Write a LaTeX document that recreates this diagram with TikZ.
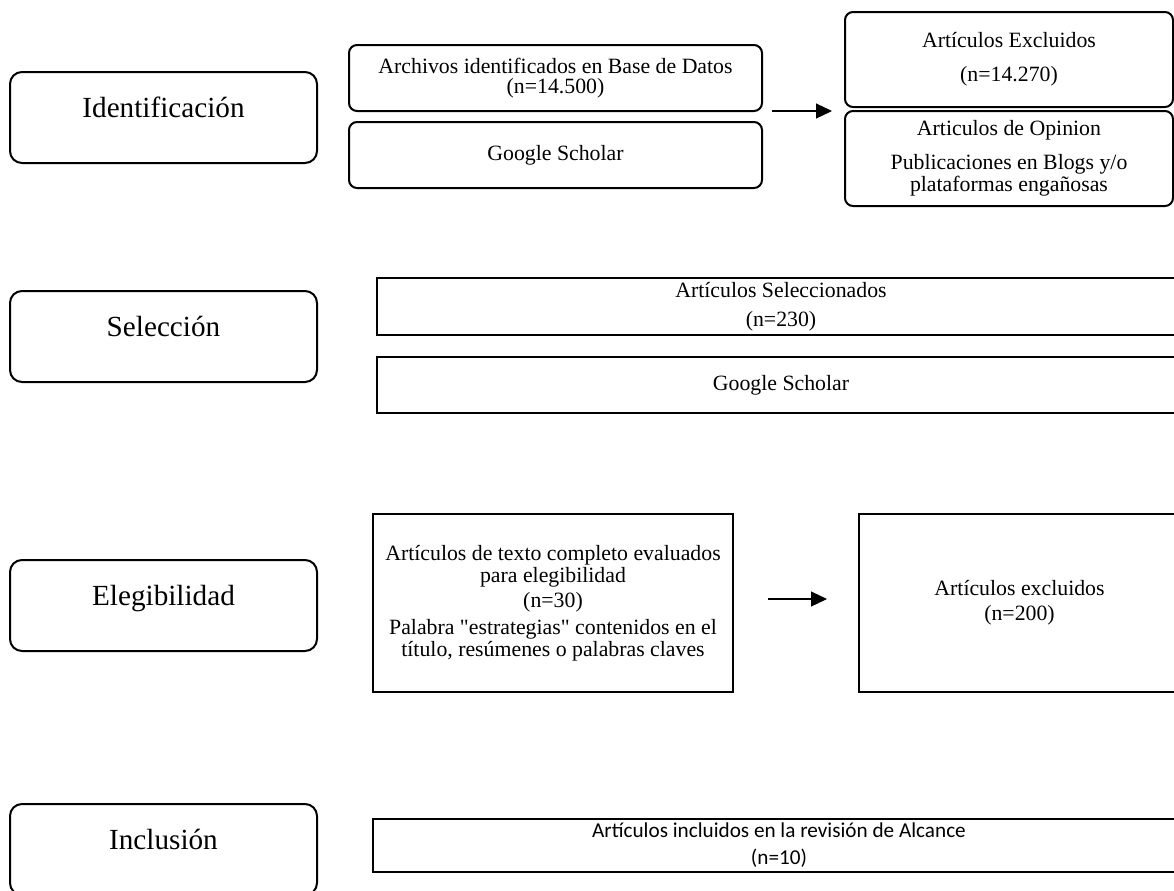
\documentclass[tikz,border=0pt]{standalone}
\usepackage{fontspec}
\setmainfont{Liberation Serif}
\newfontfamily\calibri{Carlito}
\usetikzlibrary{positioning,arrows.meta}

\begin{document}
\begin{tikzpicture}[
      x=0.5pt, y=-0.5pt,
      node distance=5.5pt and 63pt,
      every node/.style={
        align=center, inner sep=0pt, outer sep=0pt, line width=1pt
      },
      stage/.style={draw, rounded corners=6pt, minimum width=153.5pt,
        minimum height=45.5pt, text height=10pt, text depth=10pt,
        font=\fontsize{14.6}{16}\selectfont},
      rbox/.style={draw, rounded corners=4pt, font=\fontsize{10.9}{11}\selectfont},
      sbox/.style={draw, font=\fontsize{10.9}{11}\selectfont},
      >={Triangle[length=8pt,width=7.5pt]}
    ]
    \useasboundingbox (0,0) rectangle (1174,890);

    % Row 1
    \node (n1) [stage] at (163.5,117.5) {Identificación};
    \node (n2) [rbox, minimum width=206.5pt, minimum height=33pt] at (555.5,78) {Archivos identificados en Base de Datos\\[-1pt](n=14.500)};
    \node (n3) [rbox, minimum width=206.5pt, minimum height=33pt, below=of n2] {Google Scholar};
    \node (n4) [rbox, minimum width=164pt, minimum height=47.5pt] at (1009,59.5) {Artículos Excluidos\\[6pt](n=14.270)};
    \node (n5) [rbox, minimum width=164pt, minimum height=47.5pt, below=2pt of n4] {Articulos de Opinion\\[6pt]Publicaciones en Blogs y/o\\plataformas engañosas};

    % Row 2
    \node (n6) [stage] at (163.5,336.5) {Selección};
    \node (n7) [sbox, minimum width=404pt, minimum height=28.5pt] at (781,306.5) {Artículos Seleccionados\\[3.5pt](n=230)};
    \node (n8) [sbox, minimum width=404pt, minimum height=28pt, below=11pt of n7] {Google Scholar};

    % Row 3
    \node (n9) [stage] at (163.5,605.5) {Elegibilidad};
    \node (n10) [sbox, minimum width=180pt, minimum height=89pt] at (553,603) {Artículos de texto completo evaluados\\para elegibilidad\\[1.5pt](n=30)\\[2.5pt]Palabra \textquotedbl estrategias\textquotedbl{} contenidos en el\\título, resúmenes o palabras claves};
    \node (n11) [sbox, minimum width=160.5pt, minimum height=89pt, right=63pt of n10] {Artículos excluidos\\[1.5pt](n=200)};

    % Row 4
    \node (n12) [stage] at (163.5,849.5) {Inclusión};
    \node (n13) [sbox, minimum width=406pt, minimum height=26.5pt, font=\calibri\fontsize{10.6}{11}\selectfont] at (779,845.5) {Artículos incluidos en la revisión de Alcance\\[2.5pt](n=10)};

    % Exclusion arrows
    \draw[->, line width=0.6pt, shorten <=5pt, shorten >=6.5pt] (n2.south east) -- (n5.north west);
    \draw[->, line width=0.6pt, shorten <=17.5pt, shorten >=16pt] ([yshift=2pt]n10.east) -- ([yshift=2pt]n11.west);
  \end{tikzpicture}
\end{document}
